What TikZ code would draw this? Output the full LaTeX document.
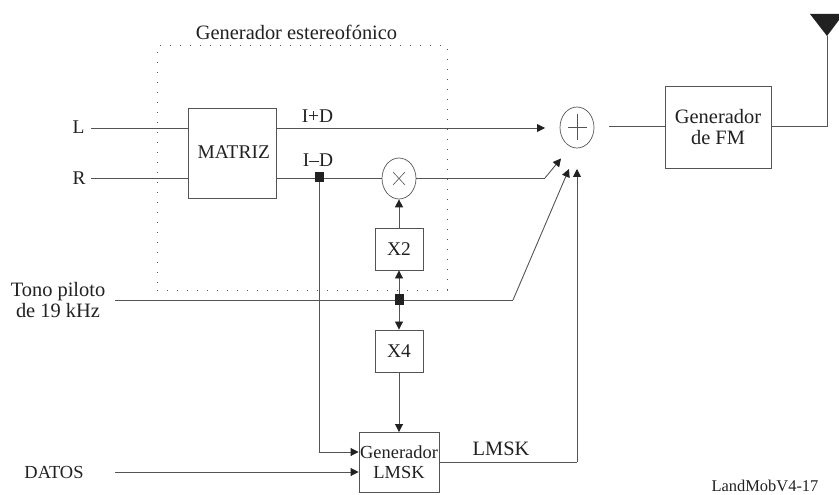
\documentclass[tikz,border=0pt]{standalone}
\usepackage{fontspec}
\setmainfont{Liberation Serif}
\usetikzlibrary{arrows.meta,shapes.geometric,backgrounds}
\definecolor{ln}{gray}{0.33}
\definecolor{tx}{gray}{0.13}
\tikzset{
 x=1bp,y=-1bp,
 wire/.style={draw=ln,line width=0.9bp},
 arr/.style={wire,-{Triangle[length=8bp,width=8bp,fill=tx,color=tx]}},
 biarr/.style={wire,{Triangle[length=8bp,width=8bp,fill=tx,color=tx]}-{Triangle[length=8bp,width=8bp,fill=tx,color=tx]}},
 medtext/.style={font=\fontsize{19.5}{21}\selectfont},
 bigtext/.style={font=\fontsize{20.5}{21}\selectfont},
 smalltext/.style={font=\fontsize{18.5}{20}\selectfont},
 blockbox/.style={draw=ln,line width=0.9bp,inner sep=0pt,align=center,text=tx,medtext},
 lab/.style={inner sep=0pt,text=tx,align=center,medtext},
 opnode/.style={draw=ln,line width=0.7bp,ellipse,inner sep=0pt,minimum width=34bp,minimum height=41bp},
 junction/.style={fill=tx,inner sep=0pt,minimum width=9bp,minimum height=10.5bp},
}
\begin{document}
\begin{tikzpicture}
\useasboundingbox (0,0) rectangle (839,495);
% dotted frame
\node[draw=ln,line width=1bp,dash pattern=on 1.3bp off 8.7bp,minimum width=290bp,minimum height=244bp,inner sep=0pt] (frame) at (302,168) {};
\node[lab,bigtext] (title) at (296.5,32) {Generador estereofónico};
% blocks
\node[blockbox,minimum width=88bp,minimum height=90bp] (mat) at (232.7,153) {};
\node[lab] (mattext) at (233.7,152) {MATRIZ};
\node[blockbox,bigtext,minimum width=106bp,minimum height=82bp] (fm) at (718,127) {Generador\\de FM};
\node[blockbox,minimum width=48bp,minimum height=42bp] (x2) at (399,249) {X2};
\node[blockbox,minimum width=48bp,minimum height=42bp] (x4) at (399,351) {X4};
\node[blockbox,smalltext,minimum width=80bp,minimum height=60bp] (gen) at (399,462.5) {Generador\\LMSK};
\node[opnode] (add) at (577,127.5) {};
\node[opnode] (mul) at (399,178.5) {};
\draw[ln,line width=0.6bp] (568,127.5)--(587,127.5) (577,114)--(577,140);
\draw[ln,line width=0.6bp] (393,172)--(405,185) (393,185)--(405,172);
% inputs
\node[lab] (l) at (78.5,127) {L};
\node[lab] (r) at (79,178) {R};
\node[lab,bigtext] (tone) at (58,300) {Tono piloto\\de 19 kHz};
\node[lab,smalltext] (datos) at (54,472) {DATOS};
\node[lab] (ipd) at (317.5,116) {I+D};
\node[lab] (imd) at (318,160) {I–D};
\node[lab,bigtext] (lmsk) at (501,449) {LMSK};
\node[lab,font=\fontsize{16.5}{17}\selectfont] (ref) at (765,486.3) {LandMobV4-17};
% coordinates
\coordinate (lend) at (91,128);
\coordinate (rend) at (91,178);
\coordinate (toneend) at (115,300);
\coordinate (dend) at (115,472);
\coordinate (addin) at (545,128);
\coordinate (j1) at (319,177);
\coordinate (j2) at (399,299.3);
\coordinate (bendi) at (545,178);
\coordinate (bendt) at (513,300);
\coordinate (bendl) at (577,462);
\node[junction] (jd) at (j1) {};
\node[junction] (jt) at (j2) {};
\coordinate (sumout) at (609,126);
\coordinate (ant) at (827,36);
% wires
\begin{scope}[on background layer]
\draw[wire] (lend) -- (mat.west |- lend);
\draw[wire] (rend) -- (mat.west |- rend);
\draw[arr] (mat.east |- addin) -- (addin);
\draw[wire] (mat.east |- rend) -- (mul.west |- rend);
\draw[wire] (mul.east |- rend) -- (bendi);
\draw[arr] (bendi) -- (561,158.5);
\draw[wire] (toneend) -- (bendt);
\draw[arr] (bendt) -- (569,169);
\draw[arr] (x2.north) -- (mul.south);
\draw[biarr] (x2.south) -- (x4.north);
\draw[arr] (x4.south) -- (gen.north);
\draw[arr] (jd.south) |- (gen.west |- 0,452);
\draw[arr] (dend) -- (gen.west |- dend);
\draw[wire] (gen.east |- bendl) -- (bendl);
\draw[arr] (bendl) -- (577,169);
\draw[wire] (sumout) -- (fm.west |- sumout);
\draw[wire] (fm.east |- sumout) -- (827,126) -- (ant);
\end{scope}
\fill[tx] (810,14) -- (839,14) -- (839,20) -- (ant) -- cycle;
\end{tikzpicture}
\end{document}
